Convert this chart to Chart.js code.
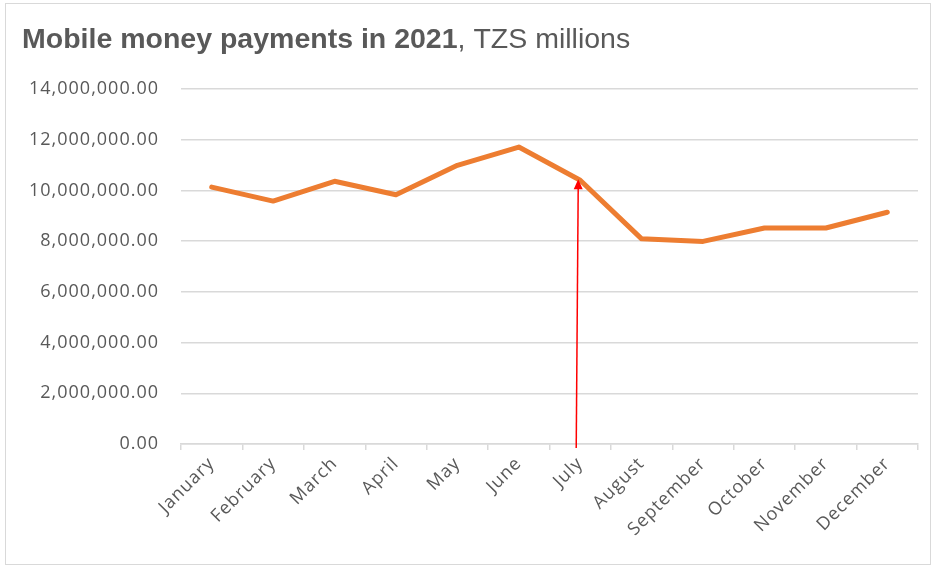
<!DOCTYPE html>
<html>
<head>
<meta charset="utf-8">
<script src="https://cdn.jsdelivr.net/npm/chart.js@4"></script>
<style>
  html, body { margin: 0; padding: 0; background: #fff; }
  #wrap { position: relative; width: 933px; height: 567px; }
  #frame { position: absolute; left: 5px; top: 3px; width: 926px; height: 562px; border: 1px solid #d9d9d9; box-sizing: border-box; pointer-events: none; }
  canvas { position: absolute; left: 0; top: 0; }
</style>
</head>
<body>
<div id="wrap">
  <canvas id="chart" width="933" height="567"></canvas>
  <div id="frame"></div>
</div>
<script>
// data
const months = ['January', 'February', 'March', 'April', 'May', 'June', 'July',
  'August', 'September', 'October', 'November', 'December'];
const payments = [10130000, 9580000, 10360000, 9830000, 10990000, 11710000, 10400000,
  8090000, 7990000, 8520000, 8520000, 9140000];
const yTicks = [0, 2000000, 4000000, 6000000, 8000000, 10000000, 12000000, 14000000];
const arrowMonth = 'July';

const textColor = '#595959';
const gridColor = '#d9d9d9';

// axis text in the reference is wide, so space the letters a little
const spacingPlugin = {
  id: 'spacingPlugin',
  beforeDraw(chart) { chart.ctx.letterSpacing = '1px'; },
  afterDraw(chart) { chart.ctx.letterSpacing = '0px'; }
};

// title with bold and normal parts
const titlePlugin = {
  id: 'titlePlugin',
  afterDraw(chart) {
    const ctx = chart.ctx;
    ctx.save();
    ctx.letterSpacing = '0px';
    ctx.fillStyle = textColor;
    ctx.textBaseline = 'alphabetic';
    ctx.textAlign = 'left';
    ctx.font = 'bold 28.5px "Liberation Sans", Arial, sans-serif';
    const bold = 'Mobile money payments in 2021';
    ctx.fillText(bold, 22, 48);
    const w = ctx.measureText(bold).width;
    ctx.font = '28.5px "Liberation Sans", Arial, sans-serif';
    ctx.fillText(', TZS millions', 22 + w, 48);
    ctx.restore();
  }
};

// red arrow pointing up at the July point
const arrowPlugin = {
  id: 'arrowPlugin',
  afterDatasetsDraw(chart) {
    const x = chart.scales.x.getPixelForValue(months.indexOf(arrowMonth)) - 3;
    const yBottom = chart.scales.y.getPixelForValue(0) + 4;
    const yTip = chart.scales.y.getPixelForValue(payments[months.indexOf(arrowMonth)]) - 1;
    const ctx = chart.ctx;
    ctx.save();
    ctx.strokeStyle = '#ff0000';
    ctx.fillStyle = '#ff0000';
    ctx.lineWidth = 1.5;
    ctx.beginPath();
    ctx.moveTo(x - 1, yBottom);
    ctx.lineTo(x + 1, yTip + 8);
    ctx.stroke();
    ctx.beginPath();
    ctx.moveTo(x + 1, yTip);
    ctx.lineTo(x - 3.5, yTip + 10);
    ctx.lineTo(x + 5.5, yTip + 10);
    ctx.closePath();
    ctx.fill();
    ctx.restore();
  }
};

new Chart(document.getElementById('chart'), {
  type: 'line',
  data: {
    labels: months,
    datasets: [{
      data: payments,
      borderColor: '#ed7d31',
      borderWidth: 5,
      pointRadius: 0,
      tension: 0,
      borderJoinStyle: 'round',
      borderCapStyle: 'round'
    }]
  },
  options: {
    responsive: false,
    animation: false,
    layout: { padding: { top: 89, right: 15, bottom: 0, left: 0 } },
    plugins: {
      legend: { display: false },
      tooltip: { enabled: false }
    },
    scales: {
      x: {
        offset: true,
        grid: {
          offset: true,
          drawOnChartArea: false,
          drawTicks: true,
          tickLength: 6,
          color: gridColor,
          lineWidth: 1.5
        },
        border: { display: true, color: gridColor, width: 1.5 },
        ticks: {
          color: textColor,
          font: { family: '"Open Sans", sans-serif', size: 18 },
          minRotation: 45,
          maxRotation: 45,
          padding: 3
        },
        afterFit(scale) { scale.height = 123; }
      },
      y: {
        min: 0,
        max: 14000000,
        afterBuildTicks(scale) { scale.ticks = yTicks.map(v => ({ value: v })); },
        grid: { color: gridColor, lineWidth: 1.5, drawTicks: false },
        border: { display: false },
        ticks: {
          color: textColor,
          font: { family: '"Open Sans", sans-serif', size: 18 },
          padding: 22,
          callback: v => v.toLocaleString('en-US', { minimumFractionDigits: 2, maximumFractionDigits: 2 })
        },
        afterFit(scale) { scale.width = 181; }
      }
    }
  },
  plugins: [spacingPlugin, titlePlugin, arrowPlugin]
});
</script>
</body>
</html>
